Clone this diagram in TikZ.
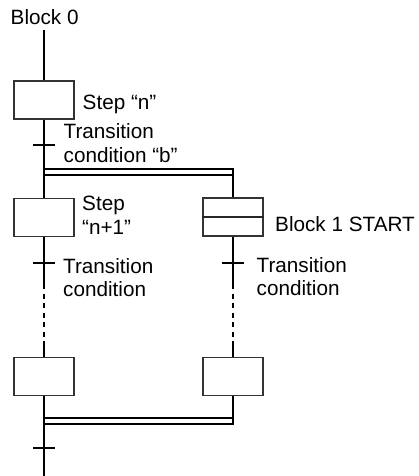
\documentclass[tikz,border=0pt]{standalone}
\usepackage{fontspec}
\setmainfont{Liberation Sans}
\begin{document}
\begin{tikzpicture}[x=1pt,y=-1pt,
  flow/.style={line width=1.9pt},
  dashflow/.style={line width=1.1pt, dash pattern=on 5pt off 4.5pt, dash phase=-4.5pt},
  stepbox/.style={draw=black!80, line width=1.3pt, minimum width=60pt, minimum height=38pt, inner sep=0pt, fill=white},
  lbl/.style={anchor=base west, inner sep=0pt, font=\fontsize{20.7}{23}\selectfont}]
\useasboundingbox (0,0) rectangle (419,476);
% boxes
\node[stepbox] (b1) at (44,100) {};
\node[stepbox] (b2) at (44,217.5) {};
\node[stepbox] (b3) at (44,376.5) {};
\node[stepbox] (r1) at (233,217) {};
\node[stepbox] (r3) at (233,376.5) {};
\draw[line width=1.3pt, draw=black!85] (r1.west) -- (r1.east);
% coordinates
\coordinate (top) at (44,30);
\coordinate (bot) at (44,476);
\coordinate (dl1a) at (44,169); \coordinate (dl1b) at (44,175);
\coordinate (dr1a) at (233,169); \coordinate (dr1b) at (233,175);
\coordinate (dl2a) at (44,418); \coordinate (dl2b) at (44,424);
\coordinate (dr2a) at (233,418); \coordinate (dr2b) at (233,424);
\coordinate (ls) at (44,289); \coordinate (le) at (44,342);
\coordinate (rs) at (233,289); \coordinate (re) at (233,342);
\coordinate (t1a) at (33,145); \coordinate (t1b) at (55,145);
\coordinate (t2a) at (33,263); \coordinate (t2b) at (55,263);
\coordinate (t3a) at (222,263); \coordinate (t3b) at (244,263);
\coordinate (t4a) at (33,448); \coordinate (t4b) at (55,448);
% left flow
\draw[flow] (top) -- (b1.north);
\draw[flow] (b1.south) -- (b2.north);
\draw[flow] (b2.south) -- (ls);
\draw[dashflow] (ls) -- (le);
\draw[flow] (le) -- (b3.north);
\draw[flow] (b3.south) -- (bot);
% right flow
\draw[flow] (dl1a) -- (dr1a) -- (r1.north);
\draw[flow] (dl1b) -- (dr1b);
\draw[flow] (r1.south) -- (rs);
\draw[dashflow] (rs) -- (re);
\draw[flow] (re) -- (r3.north);
\draw[flow] (r3.south) -- (dr2b) -- (dl2b);
\draw[flow] (dr2a) -- (dl2a);
% ticks
\draw[flow] (t1a) -- (t1b);
\draw[flow] (t2a) -- (t2b);
\draw[flow] (t3a) -- (t3b);
\draw[flow] (t4a) -- (t4b);
% labels
\node[lbl] (l0) at (10.5,24.5) {Block 0};
\node[lbl] (l1) at (82.5,110) {Step “n”};
\node[lbl] (l2) at (63.5,138) {Transition};
\node[lbl] (l3) at (63.5,162) {condition “b”};
\node[lbl] (l4) at (82,210) {Step};
\node[lbl] (l5) at (82,234.5) {“n+1”};
\node[lbl] (l6) at (63,273) {Transition};
\node[lbl] (l7) at (63,296.5) {condition};
\node[lbl] (l8) at (275,231) {Block 1 START};
\node[lbl] (l9) at (256.5,272) {Transition};
\node[lbl] (l10) at (256.5,295) {condition};
\end{tikzpicture}
\end{document}
